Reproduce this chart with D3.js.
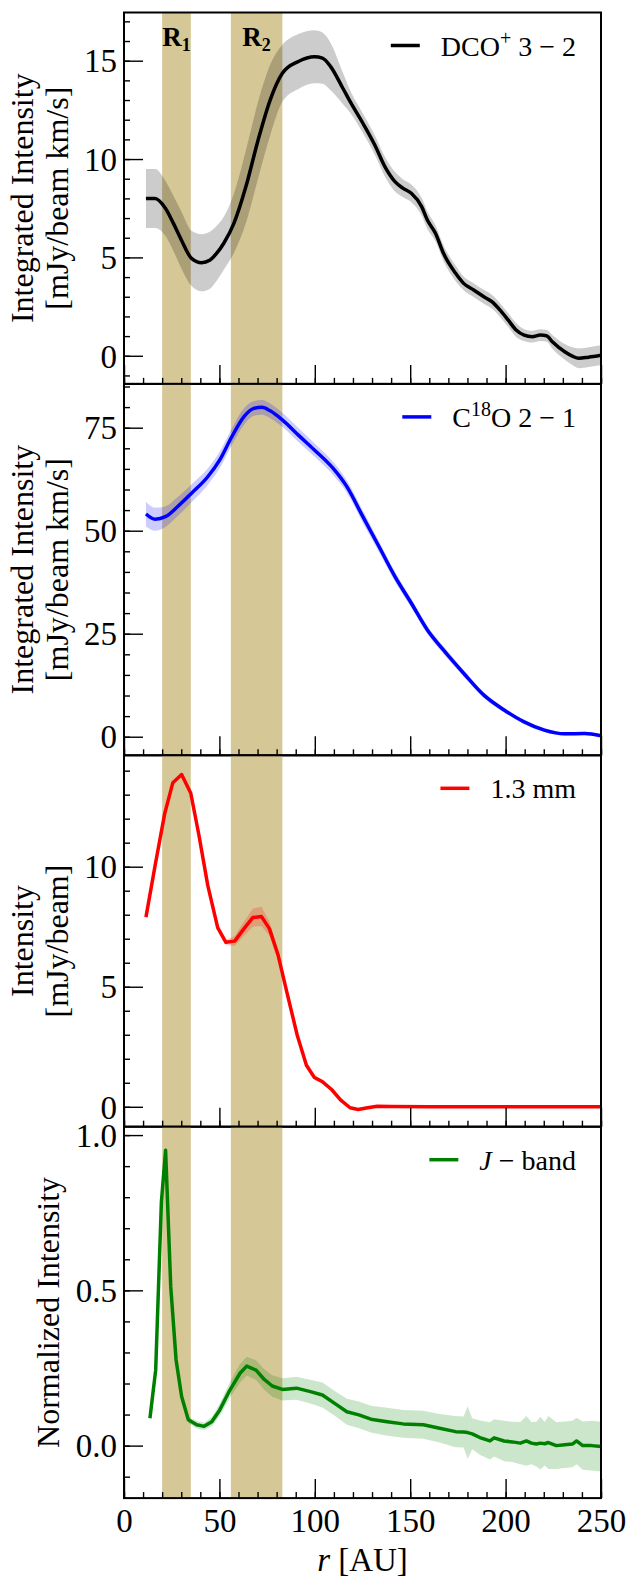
<!DOCTYPE html>
<html>
<head>
<meta charset="utf-8">
<script src="https://cdn.jsdelivr.net/npm/d3@7"></script>
<style>
  body { margin: 0; background: #fff; }
  text { font-family: "Liberation Serif", "Times New Roman", serif; fill: #000; }
</style>
</head>
<body>
<div id="chart"></div>
<script>
// radial profiles: r [AU], value, 1-sigma
var dcoR = [11.5, 16.3, 21.7, 25.9, 30.0, 35.4, 40.7, 44.9, 48.5, 52.3, 57.6, 63.9, 70.3, 76.6, 83.0, 91.4, 99.8, 104.0, 108.3, 114.7, 119.0, 125.2, 131.5, 136.8, 142.0, 146.3, 150.6, 156.0, 159.0, 163.3, 167.5, 173.8, 178.0, 183.3, 188.6, 192.8, 197.0, 201.3, 205.5, 209.7, 214.0, 218.2, 221.4, 224.5, 231.0, 235.0, 238.3, 243.5, 250.0];
var dcoVal = [8.0, 8.0, 7.5, 6.73, 5.9, 4.95, 4.73, 4.85, 5.2, 5.72, 6.73, 8.6, 10.97, 13.0, 14.36, 14.96, 15.2, 15.13, 14.7, 13.6, 12.84, 11.82, 10.7, 9.6, 8.85, 8.51, 8.26, 7.58, 6.9, 6.22, 5.2, 4.19, 3.68, 3.34, 3.0, 2.75, 2.33, 1.82, 1.31, 1.05, 0.97, 1.05, 1.02, 0.71, 0.2, -0.02, -0.13, -0.07, 0.03];
var dcoErr = [1.5, 1.5, 1.4, 1.4, 1.45, 1.4, 1.45, 1.45, 1.4, 1.35, 1.5, 1.85, 1.95, 1.8, 1.45, 1.4, 1.35, 1.3, 1.2, 0.8, 0.55, 0.5, 0.5, 0.5, 0.5, 0.45, 0.45, 0.45, 0.45, 0.4, 0.4, 0.4, 0.35, 0.35, 0.35, 0.35, 0.35, 0.35, 0.35, 0.3, 0.3, 0.3, 0.3, 0.35, 0.4, 0.45, 0.5, 0.5, 0.5];

var c18oR = [11.5, 16.3, 21.7, 28.0, 35.4, 43.9, 50.2, 56.5, 62.9, 68.1, 72.3, 76.6, 83.0, 91.4, 99.8, 110.4, 116.8, 125.2, 133.7, 142.1, 150.6, 159.0, 167.5, 178.0, 188.6, 199.2, 209.7, 220.3, 230.9, 241.4, 250.0];
var c18oVal = [54.05, 52.8, 53.4, 55.8, 59.1, 63.1, 67.2, 72.8, 77.7, 79.7, 79.95, 79.1, 76.9, 73.2, 69.6, 64.7, 60.7, 53.4, 46.1, 38.8, 32.4, 25.9, 21.0, 15.4, 10.1, 6.5, 3.6, 1.6, 0.7, 0.8, 0.25];
var c18oErr = [3.0, 2.8, 2.5, 2.3, 2.2, 2.0, 2.0, 2.0, 2.0, 1.8, 1.8, 1.8, 1.7, 1.7, 1.6, 1.6, 1.5, 1.5, 1.3, 1.2, 1.1, 1.0, 0.9, 0.8, 0.7, 0.6, 0.5, 0.5, 0.4, 0.4, 0.4];

var mmR = [11.5, 16.3, 21.3, 25.6, 30.2, 35.0, 39.3, 43.9, 49.1, 53.4, 58.0, 62.9, 67.5, 72.0, 76.2, 80.8, 85.5, 90.8, 95.6, 99.8, 104.1, 108.8, 113.6, 118.5, 122.7, 127.7, 132.7, 140, 160, 180, 200, 225, 250];
var mmVal = [7.9, 10.05, 12.2, 13.5, 13.84, 13.06, 11.3, 9.22, 7.46, 6.85, 6.9, 7.42, 7.88, 7.93, 7.42, 6.31, 4.72, 2.98, 1.73, 1.22, 1.04, 0.72, 0.28, -0.04, -0.11, -0.04, 0.02, 0.01, 0.0, 0.0, 0.0, 0.0, 0.0];
var mmErr = [0.05, 0.05, 0.05, 0.06, 0.06, 0.06, 0.06, 0.06, 0.08, 0.12, 0.2, 0.3, 0.38, 0.4, 0.3, 0.22, 0.18, 0.15, 0.13, 0.1, 0.08, 0.06, 0.05, 0.04, 0.04, 0.03, 0.03, 0.02, 0.02, 0.02, 0.02, 0.02, 0.02];

var jR = [13.6, 16.6, 19.6, 21.8, 24.5, 27.3, 30.2, 33.7, 38.1, 42.0, 46.0, 50.2, 55.5, 60.8, 64.3, 69.2, 73.5, 77.7, 83.0, 90.4, 97.7, 104.0, 110.4, 116.8, 123.1, 129.4, 137.9, 146.3, 156.9, 165.4, 173.8, 178.0, 180.1, 182.5, 186.5, 191.8, 194.0, 199.2, 203.5, 207.7, 210.9, 213.5, 216.1, 218.2, 220.5, 222.4, 226.6, 231.0, 235.0, 237.2, 240.4, 245.0, 250.0];
var jVal = [0.088, 0.243, 0.785, 0.951, 0.511, 0.276, 0.158, 0.083, 0.067, 0.062, 0.077, 0.115, 0.179, 0.233, 0.256, 0.243, 0.213, 0.192, 0.181, 0.185, 0.174, 0.163, 0.136, 0.109, 0.099, 0.085, 0.077, 0.070, 0.067, 0.056, 0.045, 0.044, 0.042, 0.038, 0.026, 0.015, 0.025, 0.015, 0.012, 0.008, 0.015, 0.008, 0.005, 0.008, 0.006, 0.010, 0.000, 0.003, 0.005, 0.015, 0.000, 0.000, -0.003];
var jErr = [0.005, 0.008, 0.01, 0.01, 0.01, 0.01, 0.01, 0.01, 0.012, 0.012, 0.015, 0.02, 0.025, 0.03, 0.03, 0.032, 0.033, 0.035, 0.036, 0.037, 0.038, 0.04, 0.04, 0.042, 0.043, 0.043, 0.045, 0.045, 0.045, 0.046, 0.05, 0.05, 0.085, 0.05, 0.055, 0.06, 0.06, 0.065, 0.065, 0.068, 0.08, 0.068, 0.072, 0.085, 0.07, 0.085, 0.075, 0.075, 0.075, 0.075, 0.078, 0.08, 0.08];

// shaded regions R1, R2
var bandStart = [20, 56];
var bandEnd = [35, 83];
var bandNames = ["1", "2"];

var xTicks = [0, 50, 100, 150, 200, 250];
var dcoTicks = [0, 5, 10, 15];
var c18oTicks = [0, 25, 50, 75];
var mmTicks = [0, 5, 10];
var jTicks = [0.0, 0.5, 1.0];

var width = 630, height = 1580;
var left = 124, right = 601, top0 = 12.5, panelH = 371.4;
var serif = "'Liberation Serif', 'Times New Roman', serif";

var svg = d3.select("#chart").append("svg")
    .attr("width", width)
    .attr("height", height);

svg.append("rect").attr("width", width).attr("height", height).attr("fill", "#fff");

var x = d3.scaleLinear().domain([0, 250]).range([left, right]);

function zip(r, v, e) {
    var a = [];
    for (var i = 0; i < r.length; i++) {
        a[i] = {r: r[i], v: v[i], e: e[i]};
    }
    return a;
}

var panels = [
    {data: zip(dcoR, dcoVal, dcoErr), color: "#000000", domain: [-1.43, 17.45], ticks: dcoTicks,
     minor: d3.range(-1, 18), fmt: d3.format("d"), curve: d3.curveMonotoneX,
     label: ["Integrated Intensity", "[mJy/beam km/s]"], legend: [["DCO", 0], ["+", 1], [" 3 \u2212 2", 0]]},
    {data: zip(c18oR, c18oVal, c18oErr), color: "#0000ff", domain: [-4.51, 85.63], ticks: c18oTicks,
     minor: d3.range(0, 86, 5), fmt: d3.format("d"), curve: d3.curveMonotoneX,
     label: ["Integrated Intensity", "[mJy/beam km/s]"], legend: [["C", 0], ["18", 1], ["O 2 \u2212 1", 0]]},
    {data: zip(mmR, mmVal, mmErr), color: "#ff0000", domain: [-0.83, 14.64], ticks: mmTicks,
     minor: d3.range(0, 15), fmt: d3.format("d"), curve: d3.curveLinear,
     label: ["Intensity", "[mJy/beam]"], legend: [["1.3 mm", 0]]},
    {data: zip(jR, jVal, jErr), color: "#008000", domain: [-0.169, 1.027], ticks: jTicks,
     minor: d3.range(-1, 11).map(function(d) { return d / 10; }), fmt: d3.format(".1f"), curve: d3.curveLinear,
     label: ["Normalized Intensity"], legend: [["J", 2], [" \u2212 band", 0]]}
];

panels.forEach(function(p, i) {
    var top = top0 + i * panelH;
    var bottom = top + panelH;
    var y = d3.scaleLinear().domain(p.domain).range([bottom, top]);
    var g = svg.append("g");

    g.append("clipPath").attr("id", "clip" + i)
        .append("rect")
        .attr("x", left).attr("y", top)
        .attr("width", right - left).attr("height", panelH);

    // tan regions
    g.selectAll(".band")
        .data(bandStart)
        .enter().append("rect")
        .attr("x", function(d) { return x(d); })
        .attr("y", top)
        .attr("width", function(d, k) { return x(bandEnd[k]) - x(d); })
        .attr("height", panelH)
        .attr("fill", "#d6c796");

    var plot = g.append("g").attr("clip-path", "url(#clip" + i + ")");

    var area = d3.area()
        .x(function(d) { return x(d.r); })
        .y0(function(d) { return y(d.v - d.e); })
        .y1(function(d) { return y(d.v + d.e); })
        .curve(p.curve);

    var line = d3.line()
        .x(function(d) { return x(d.r); })
        .y(function(d) { return y(d.v); })
        .curve(p.curve);

    plot.append("path")
        .attr("d", area(p.data))
        .attr("fill", p.color)
        .attr("fill-opacity", 0.2);

    plot.append("path")
        .attr("d", line(p.data))
        .attr("fill", "none")
        .attr("stroke", p.color)
        .attr("stroke-width", 3.5)
        .attr("stroke-linejoin", "round");

    // y axis, ticks pointing inward
    var yMinor = g.append("g")
        .attr("transform", "translate(" + left + ",0)")
        .call(d3.axisLeft(y).tickValues(p.minor).tickSize(-6).tickFormat(""));
    var yAxis = g.append("g")
        .attr("transform", "translate(" + left + ",0)")
        .call(d3.axisLeft(y).tickValues(p.ticks).tickSize(-19).tickPadding(7).tickFormat(p.fmt));
    yAxis.selectAll("text")
        .attr("dy", "0.34em");

    // x axis at the bottom of every panel
    var xMinor = g.append("g")
        .attr("transform", "translate(0," + bottom + ")")
        .call(d3.axisBottom(x).tickValues(d3.range(0, 251, 10)).tickSize(-6).tickFormat(""));
    var xAxis = g.append("g")
        .attr("transform", "translate(0," + bottom + ")")
        .call(d3.axisBottom(x).tickValues(xTicks).tickSize(-19).tickPadding(10)
            .tickFormat(i == panels.length - 1 ? d3.format("d") : ""));
    xAxis.selectAll("text")
        .attr("dy", "0.71em");

    [yMinor, yAxis, xMinor, xAxis].forEach(function(a) {
        a.attr("font-family", serif).attr("font-size", 33);
        a.select(".domain").remove();
        a.selectAll("line").attr("stroke", "#000").attr("stroke-width", 1.4);
        a.selectAll("text").style("font-family", serif).style("font-size", "33px");
    });

    g.append("rect")
        .attr("x", left).attr("y", top)
        .attr("width", right - left).attr("height", panelH)
        .attr("fill", "none")
        .attr("stroke", "#000")
        .attr("stroke-width", 2);

    // y label (rotated)
    var cy = top + panelH / 2;
    var lx = p.label.length == 2 ? [33, 68] : [59];
    p.label.forEach(function(t, k) {
        g.append("text")
            .attr("transform", "translate(" + lx[k] + "," + cy + ") rotate(-90)")
            .attr("text-anchor", "middle")
            .style("font-family", serif)
            .style("font-size", "32px")
            .text(t);
    });

    // legend
    var leg = g.append("text")
        .attr("x", 576)
        .attr("y", top + 43)
        .attr("text-anchor", "end")
        .style("font-family", serif)
        .style("font-size", "28px");
    p.legend.forEach(function(s) {
        var ts = leg.append("tspan").text(s[0]);
        if (s[1] == 1) {
            ts.attr("dy", -11).style("font-size", "20px");
        } else if (s[1] == 2) {
            ts.style("font-style", "italic");
        }
    });
    // put superscripts back on the baseline
    leg.selectAll("tspan").each(function(d, k) {
        if (k > 0 && p.legend[k - 1][1] == 1) d3.select(this).attr("dy", 11);
    });
    var bb = leg.node().getBBox();
    g.append("line")
        .attr("x1", bb.x - 50).attr("x2", bb.x - 21)
        .attr("y1", top + 33).attr("y2", top + 33)
        .attr("stroke", p.color)
        .attr("stroke-width", 3.5);

    // region labels only in the top panel
    if (i == 0) {
        bandStart.forEach(function(s, k) {
            var t = g.append("text")
                .attr("x", x((s + bandEnd[k]) / 2))
                .attr("y", top + 33)
                .attr("text-anchor", "middle")
                .style("font-family", serif)
                .style("font-size", "27px")
                .style("font-weight", "bold");
            t.append("tspan").text("R");
            t.append("tspan").attr("dy", 5).style("font-size", "18px").text(bandNames[k]);
        });
    }
});

// x label
var xl = svg.append("text")
    .attr("x", (left + right) / 2)
    .attr("y", 1571)
    .attr("text-anchor", "middle")
    .style("font-family", serif)
    .style("font-size", "33px");
xl.append("tspan").style("font-style", "italic").text("r");
xl.append("tspan").text(" [AU]");
</script>
</body>
</html>
